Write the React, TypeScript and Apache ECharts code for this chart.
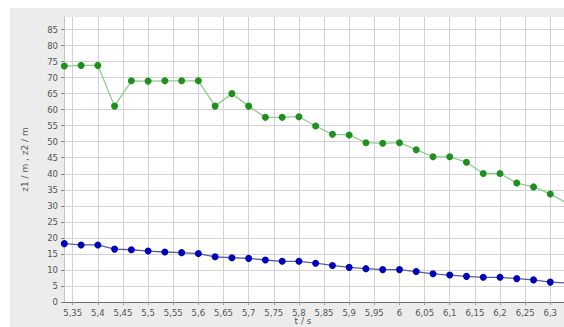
import React, { useEffect, useRef } from "react";
import * as echarts from "echarts";

const times = [
  5.3333, 5.3667, 5.4, 5.4333, 5.4667, 5.5, 5.5333, 5.5667, 5.6, 5.6333,
  5.6667, 5.7, 5.7333, 5.7667, 5.8, 5.8333, 5.8667, 5.9, 5.9333, 5.9667,
  6.0, 6.0333, 6.0667, 6.1, 6.1333, 6.1667, 6.2, 6.2333, 6.2667, 6.3, 6.3333,
];

const z1 = [
  73.6, 73.8, 73.8, 61.1, 69.0, 68.9, 69.0, 69.0, 69.0, 61.1,
  65.0, 61.1, 57.6, 57.6, 57.8, 54.9, 52.3, 52.1, 49.7, 49.5,
  49.7, 47.5, 45.3, 45.3, 43.6, 40.1, 40.1, 37.1, 35.9, 33.7, 30.8,
];

const z2 = [
  18.2, 17.8, 17.8, 16.5, 16.3, 15.9, 15.6, 15.4, 15.1, 14.1,
  13.8, 13.6, 13.1, 12.7, 12.7, 12.1, 11.4, 10.8, 10.4, 10.1,
  10.1, 9.5, 8.8, 8.4, 8.0, 7.7, 7.7, 7.3, 6.9, 6.2, 5.9,
];

const xTicks = [
  5.35, 5.4, 5.45, 5.5, 5.55, 5.6, 5.65, 5.7, 5.75, 5.8, 5.85, 5.9, 5.95,
  6.0, 6.05, 6.1, 6.15, 6.2, 6.25, 6.3,
];
const yTicks = [0, 5, 10, 15, 20, 25, 30, 35, 40, 45, 50, 55, 60, 65, 70, 75, 80, 85];

const xTitle = "t / s";
const yTitle = "z1 / m , z2 / m";

const FONT = "DejaVu Sans";

export default function App() {
  const ref = useRef<HTMLDivElement>(null);
  useEffect(() => {
    if (!ref.current) return;
    const chart = echarts.init(ref.current, null, { renderer: "svg" });
    const fmt = (v: number) => String(Math.round(v * 100) / 100).replace(".", ",");
    chart.setOption({
      animation: false,
      backgroundColor: "#ffffff",
      graphic: [
        {
          type: "rect",
          z: -10,
          silent: true,
          shape: { x: 10, y: 8, width: 560, height: 330 },
          style: { fill: "#ececec" },
        },
        {
          type: "text",
          x: 303,
          y: 321,
          style: {
            text: xTitle,
            fill: "#555555",
            font: `9px "${FONT}"`,
            align: "center",
            verticalAlign: "middle",
          },
        },
      ],
      grid: {
        left: 64,
        top: 17,
        right: 0,
        bottom: 25,
        show: true,
        backgroundColor: "#ffffff",
        borderWidth: 0,
      },
      xAxis: {
        type: "value",
        min: 5.3327,
        max: 6.3273,
        axisLine: { show: true, lineStyle: { color: "#707070", width: 1 } },
        axisTick: { show: true, length: 3, lineStyle: { color: "#999" }, customValues: xTicks },
        axisLabel: {
          customValues: xTicks,
          formatter: fmt,
          color: "#555555",
          fontFamily: FONT,
          fontSize: 8.5,
          margin: 6,
        },
        splitLine: { show: true, lineStyle: { color: "#d2d2d2", width: 1 } },
      },
      yAxis: {
        type: "value",
        min: 0,
        max: 88.9,
        name: yTitle,
        nameLocation: "middle",
        nameRotate: 90,
        nameGap: 35,
        nameTextStyle: { color: "#555555", fontFamily: FONT, fontSize: 9 },
        axisLine: { show: true, lineStyle: { color: "#c4c4c4", width: 1 } },
        axisTick: { show: true, length: 3, lineStyle: { color: "#888" }, customValues: yTicks },
        axisLabel: {
          customValues: yTicks,
          color: "#555555",
          fontFamily: FONT,
          fontSize: 8.5,
          margin: 6,
        },
        splitLine: { show: true, lineStyle: { color: "#d2d2d2", width: 1 } },
      },
      series: [
        {
          name: "z1",
          type: "line",
          data: times.map((t, i) => [t, z1[i]]),
          symbol: "circle",
          symbolSize: 7,
          clip: true,
          lineStyle: { color: "#8fcc8f", width: 1.3 },
          itemStyle: { color: "#1f8f1f" },
        },
        {
          name: "z2",
          type: "line",
          data: times.map((t, i) => [t, z2[i]]),
          symbol: "circle",
          symbolSize: 7,
          clip: true,
          lineStyle: { color: "#5a5a9e", width: 1.3 },
          itemStyle: { color: "#0000b8" },
        },
      ],
    });
    return () => chart.dispose();
  }, []);
  return (
    <div
      ref={ref}
      style={{ position: "fixed", left: 0, top: 0, width: 564, height: 327 }}
    />
  );
}
